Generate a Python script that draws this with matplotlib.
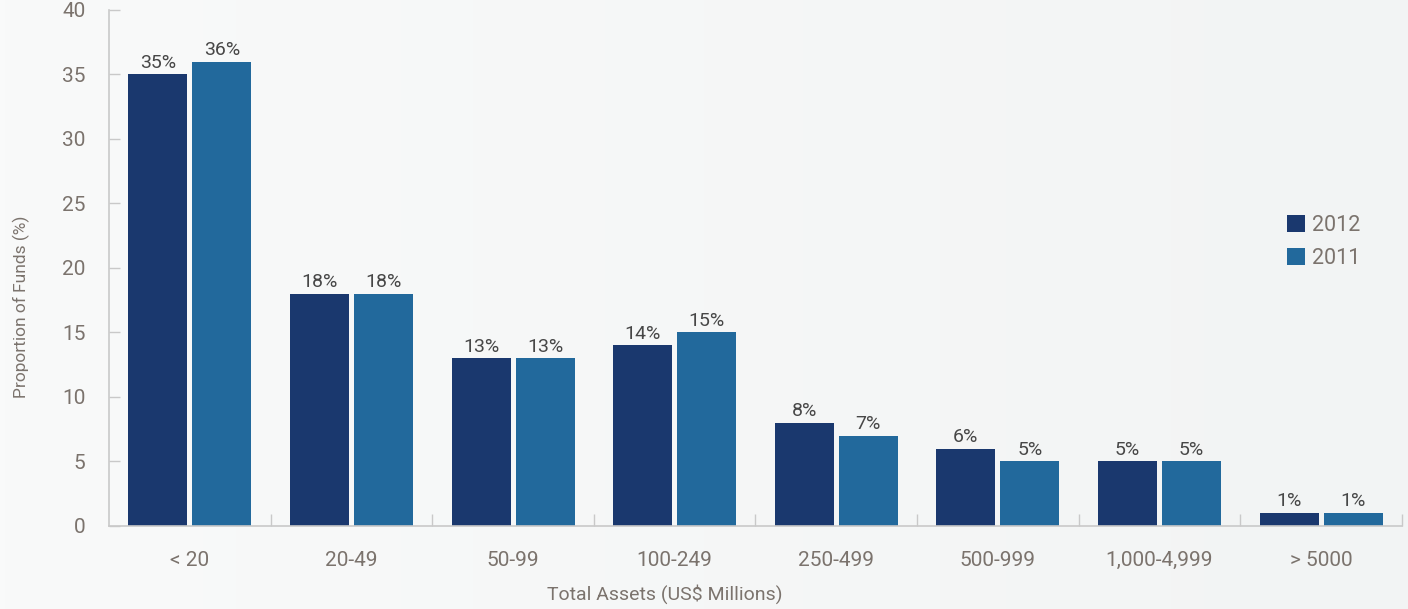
import numpy as np
import matplotlib
matplotlib.use("Agg")
import matplotlib.pyplot as plt
from matplotlib.ticker import MultipleLocator, FixedLocator

# --- data -------------------------------------------------------------
categories = ["< 20", "20-49", "50-99", "100-249", "250-499",
              "500-999", "1,000-4,999", "> 5000"]
funds_2012 = [35, 18, 13, 14, 8, 6, 5, 1]
funds_2011 = [36, 18, 13, 15, 7, 5, 5, 1]
series_names = ["2012", "2011"]

DARK = "#1a386e"
LIGHT = "#22699c"
TEXT = "#7b736d"
VALUE = "#474747"
SPINE = "#c9c9c9"
BG = "#f5f6f6"

plt.rcParams["font.family"] = ["Roboto", "DejaVu Sans"]

fig = plt.figure(figsize=(14.08, 6.09), dpi=100, facecolor=BG)

# soft background wash
bg = fig.add_axes([0, 0, 1, 1], zorder=-10)
grad = np.linspace(0, 1, 256)[None, :]
bg.imshow(grad, aspect="auto", cmap=matplotlib.colors.LinearSegmentedColormap.from_list(
    "wash", ["#f9fafa", "#f2f4f4"]), extent=[0, 1, 0, 1])
bg.axis("off")

ax = fig.add_axes([0.0774, 0.1363, 0.9183, 0.8473])
ax.patch.set_alpha(0)

x = np.arange(len(categories))
w = 0.365
gap = 0.031
b1 = ax.bar(x - (w + gap) / 2, funds_2012, width=w, color=DARK, label=series_names[0])
b2 = ax.bar(x + (w + gap) / 2, funds_2011, width=w, color=LIGHT, label=series_names[1])

for bars, vals in ((b1, funds_2012), (b2, funds_2011)):
    for bar, v in zip(bars, vals):
        ax.annotate(f"{v}%", (bar.get_x() + bar.get_width() / 2, v),
                    xytext=(0, 2), textcoords="offset points",
                    ha="center", va="bottom", fontsize=14, color=VALUE)

ax.set_xlim(-0.5, len(categories) - 0.5)
ax.set_ylim(0, 40)
ax.yaxis.set_major_locator(MultipleLocator(5))

ax.set_xticks(x)
ax.set_xticklabels(categories)
ax.xaxis.set_minor_locator(FixedLocator(np.arange(0.5, len(categories), 1.0)))
ax.tick_params(axis="x", which="major", length=0, pad=18, labelsize=15, labelcolor=TEXT)
ax.tick_params(axis="x", which="minor", direction="in", length=9, width=1, color=SPINE)
ax.tick_params(axis="y", direction="in", length=8, width=1, color=SPINE,
               pad=17, labelsize=15, labelcolor=TEXT)

for side in ("top", "right"):
    ax.spines[side].set_visible(False)
for side in ("left", "bottom"):
    ax.spines[side].set_color(SPINE)
    ax.spines[side].set_linewidth(1.2)

# axis titles sit off-centre, so place them in figure coordinates
fig.text(665 / 1408, 1 - 594 / 609, "Total Assets (US$ Millions)",
         ha="center", va="center", fontsize=14, color=TEXT)
fig.text(21 / 1408, 1 - 307 / 609, "Proportion of Funds (%)", rotation=90,
         ha="center", va="center", fontsize=12.5, color=TEXT)

leg = ax.legend(loc="upper left", bbox_to_anchor=(0.8965, 0.64), frameon=False,
                fontsize=15.5, handlelength=0.8, handleheight=0.8,
                handletextpad=0.35, labelspacing=0.55, labelcolor=TEXT)

fig.savefig("out.png", dpi=100, facecolor=BG)
